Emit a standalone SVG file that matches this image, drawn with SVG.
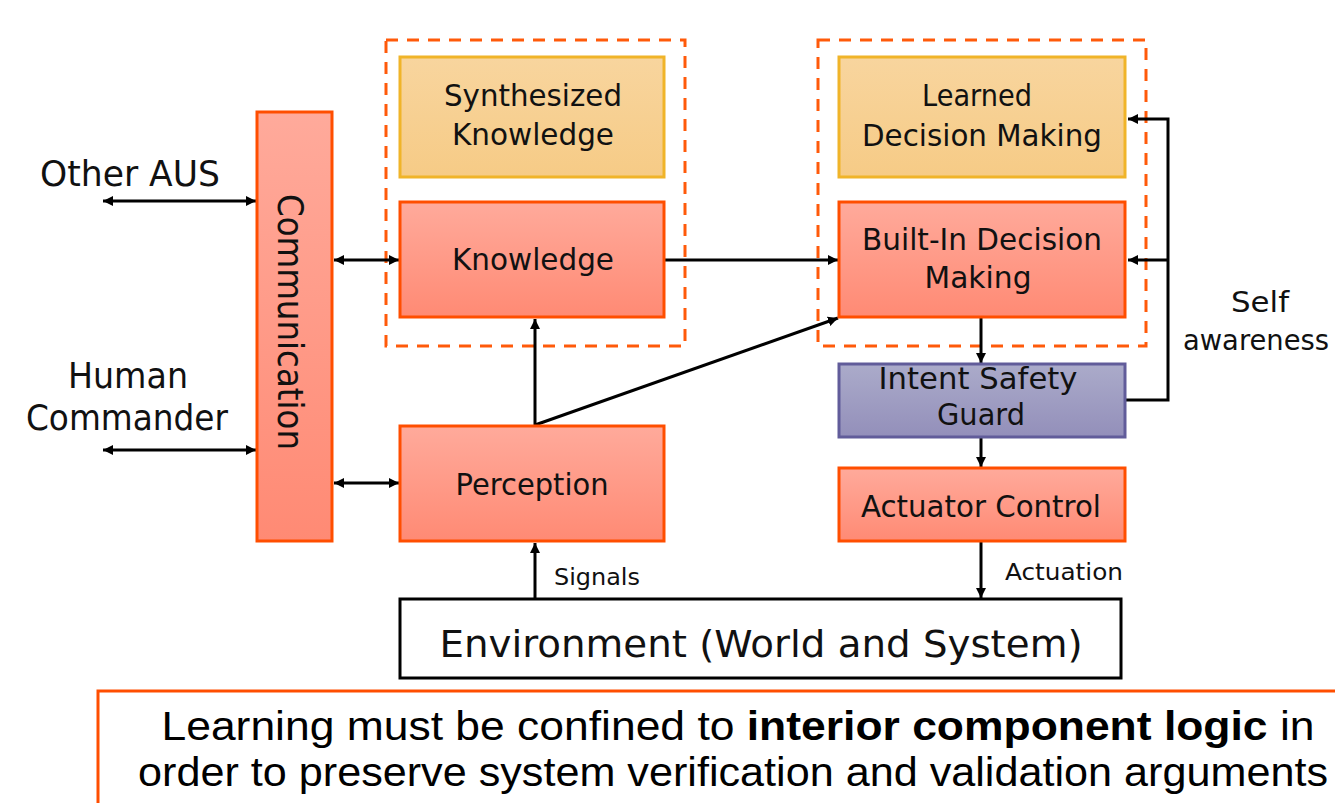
<svg xmlns="http://www.w3.org/2000/svg" width="1335" height="803" viewBox="0 0 1335 803">
  <defs>
    <linearGradient id="gOrange" x1="0" y1="0" x2="0" y2="1">
      <stop offset="0" stop-color="#FFAA9B"/>
      <stop offset="1" stop-color="#FF8A74"/>
    </linearGradient>
    <linearGradient id="gYellow" x1="0" y1="0" x2="0" y2="1">
      <stop offset="0" stop-color="#F8D59E"/>
      <stop offset="1" stop-color="#F6CB86"/>
    </linearGradient>
    <linearGradient id="gViolet" x1="0" y1="0" x2="0" y2="1">
      <stop offset="0" stop-color="#ABABCA"/>
      <stop offset="1" stop-color="#938FBA"/>
    </linearGradient>
    <marker id="arr" viewBox="0 0 10 10" refX="10" refY="5" markerWidth="10" markerHeight="10" markerUnits="userSpaceOnUse" orient="auto-start-reverse">
      <path d="M0,0 L10,5 L0,10 z" fill="#000"/>
    </marker>
  </defs>
  <style>
    .lbl { font-family: "DejaVu Sans", "Liberation Sans", sans-serif; fill: #111; text-anchor: middle; }
    .node { font-size: 30px; }
    .side { font-size: 28px; }
    .big { font-size: 36px; }
    .small { font-size: 23px; }
    .orange { fill: url(#gOrange); stroke: #FF4E00; stroke-width: 3; }
    .yellow { fill: url(#gYellow); stroke: #F0B429; stroke-width: 3; }
    .violet { fill: url(#gViolet); stroke: #615C9A; stroke-width: 3; }
    .group { fill: none; stroke: #FF5A0A; stroke-width: 3; stroke-dasharray: 12 9; }
    .wire { fill: none; stroke: #000; stroke-width: 3; }
    .cap { font-family: "Liberation Sans", Arial, sans-serif; font-size: 41px; fill: #000; text-anchor: middle; }
  </style>

  <rect width="1335" height="803" fill="#fff"/>

  <!-- dashed groupings -->
  <rect id="knowledge-group" class="group" x="386" y="40" width="299" height="306"/>
  <rect id="decision-group" class="group" x="818" y="40" width="328" height="306"/>

  <!-- connectors -->
  <g id="connectors">
    <line class="wire" x1="103" y1="201" x2="256" y2="201" marker-start="url(#arr)" marker-end="url(#arr)"/>
    <line class="wire" x1="103" y1="450" x2="256" y2="450" marker-start="url(#arr)" marker-end="url(#arr)"/>
    <line class="wire" x1="334" y1="260" x2="399" y2="260" marker-start="url(#arr)" marker-end="url(#arr)"/>
    <line class="wire" x1="334" y1="483" x2="399" y2="483" marker-start="url(#arr)" marker-end="url(#arr)"/>
    <line class="wire" x1="665" y1="260" x2="838" y2="260" marker-end="url(#arr)"/>
    <line class="wire" x1="535" y1="425" x2="535" y2="319" marker-end="url(#arr)"/>
    <line class="wire" x1="535" y1="425" x2="838" y2="318" marker-end="url(#arr)"/>
    <line class="wire" x1="981" y1="318" x2="981" y2="363" marker-end="url(#arr)"/>
    <line class="wire" x1="981" y1="438" x2="981" y2="467" marker-end="url(#arr)"/>
    <line class="wire" x1="981" y1="542" x2="981" y2="598" marker-end="url(#arr)"/>
    <line class="wire" x1="535" y1="598" x2="535" y2="543" marker-end="url(#arr)"/>
    <polyline class="wire" points="1126,400 1168,400 1168,119 1128,119" marker-end="url(#arr)"/>
    <line class="wire" x1="1168" y1="260" x2="1128" y2="260" marker-end="url(#arr)"/>
    <text class="lbl small" x="597" y="585" textLength="86" lengthAdjust="spacingAndGlyphs">Signals</text>
    <text class="lbl small" x="1064" y="580" textLength="118" lengthAdjust="spacingAndGlyphs">Actuation</text>
  </g>

  <!-- external parties -->
  <g id="other-aus">
    <text class="lbl big" x="130" y="186" textLength="180" lengthAdjust="spacingAndGlyphs">Other AUS</text>
  </g>
  <g id="human-commander">
    <text class="lbl big" x="128" y="388" textLength="120" lengthAdjust="spacingAndGlyphs">Human</text>
    <text class="lbl big" x="127" y="430" textLength="202" lengthAdjust="spacingAndGlyphs">Commander</text>
  </g>

  <g id="communication">
    <rect class="orange" x="257" y="112" width="75" height="429"/>
    <text class="lbl big" transform="translate(278,322) rotate(90)" textLength="256" lengthAdjust="spacingAndGlyphs">Communication</text>
  </g>

  <g id="synthesized-knowledge">
    <rect class="yellow" x="400" y="57" width="264" height="120"/>
    <text class="lbl node" x="533" y="106" textLength="178" lengthAdjust="spacingAndGlyphs">Synthesized</text>
    <text class="lbl node" x="533" y="145" textLength="162" lengthAdjust="spacingAndGlyphs">Knowledge</text>
  </g>

  <g id="knowledge">
    <rect class="orange" x="400" y="202" width="264" height="115"/>
    <text class="lbl node" x="533" y="270" textLength="162" lengthAdjust="spacingAndGlyphs">Knowledge</text>
  </g>

  <g id="perception">
    <rect class="orange" x="400" y="426" width="264" height="115"/>
    <text class="lbl node" x="532" y="495" textLength="153" lengthAdjust="spacingAndGlyphs">Perception</text>
  </g>

  <g id="learned-decision-making">
    <rect class="yellow" x="839" y="57" width="286" height="120"/>
    <text class="lbl node" x="977" y="106" textLength="110" lengthAdjust="spacingAndGlyphs">Learned</text>
    <text class="lbl node" x="982" y="146" textLength="240" lengthAdjust="spacingAndGlyphs">Decision Making</text>
  </g>

  <g id="built-in-decision-making">
    <rect class="orange" x="839" y="202" width="286" height="115"/>
    <text class="lbl node" x="982" y="250" textLength="240" lengthAdjust="spacingAndGlyphs">Built-In Decision</text>
    <text class="lbl node" x="978" y="288" textLength="107" lengthAdjust="spacingAndGlyphs">Making</text>
  </g>

  <g id="intent-safety-guard">
    <rect class="violet" x="839" y="364" width="286" height="73"/>
    <text class="lbl node" x="978" y="389" textLength="199" lengthAdjust="spacingAndGlyphs">Intent Safety</text>
    <text class="lbl node" x="981" y="425" textLength="88" lengthAdjust="spacingAndGlyphs">Guard</text>
  </g>

  <g id="actuator-control">
    <rect class="orange" x="839" y="468" width="286" height="73"/>
    <text class="lbl node" x="981" y="517" textLength="240" lengthAdjust="spacingAndGlyphs">Actuator Control</text>
  </g>

  <g id="self-awareness">
    <text class="lbl side" x="1260" y="312" textLength="58" lengthAdjust="spacingAndGlyphs">Self</text>
    <text class="lbl side" x="1256" y="350" textLength="146" lengthAdjust="spacingAndGlyphs">awareness</text>
  </g>

  <g id="environment">
    <rect x="400" y="599" width="721" height="79" fill="#fff" stroke="#000" stroke-width="3"/>
    <text class="lbl" style="font-size:38px" x="761" y="657" textLength="643" lengthAdjust="spacingAndGlyphs">Environment (World and System)</text>
  </g>

  <g id="caption">
    <path d="M98,815 L98,691 L1345,691" fill="none" stroke="#FF4E00" stroke-width="3"/>
    <text class="cap" x="738" y="740" textLength="1153" lengthAdjust="spacingAndGlyphs">Learning must be confined to <tspan font-weight="bold">interior component logic</tspan> in</text>
    <text class="cap" x="733" y="786" textLength="1190" lengthAdjust="spacingAndGlyphs">order to preserve system verification and validation arguments</text>
  </g>
</svg>
